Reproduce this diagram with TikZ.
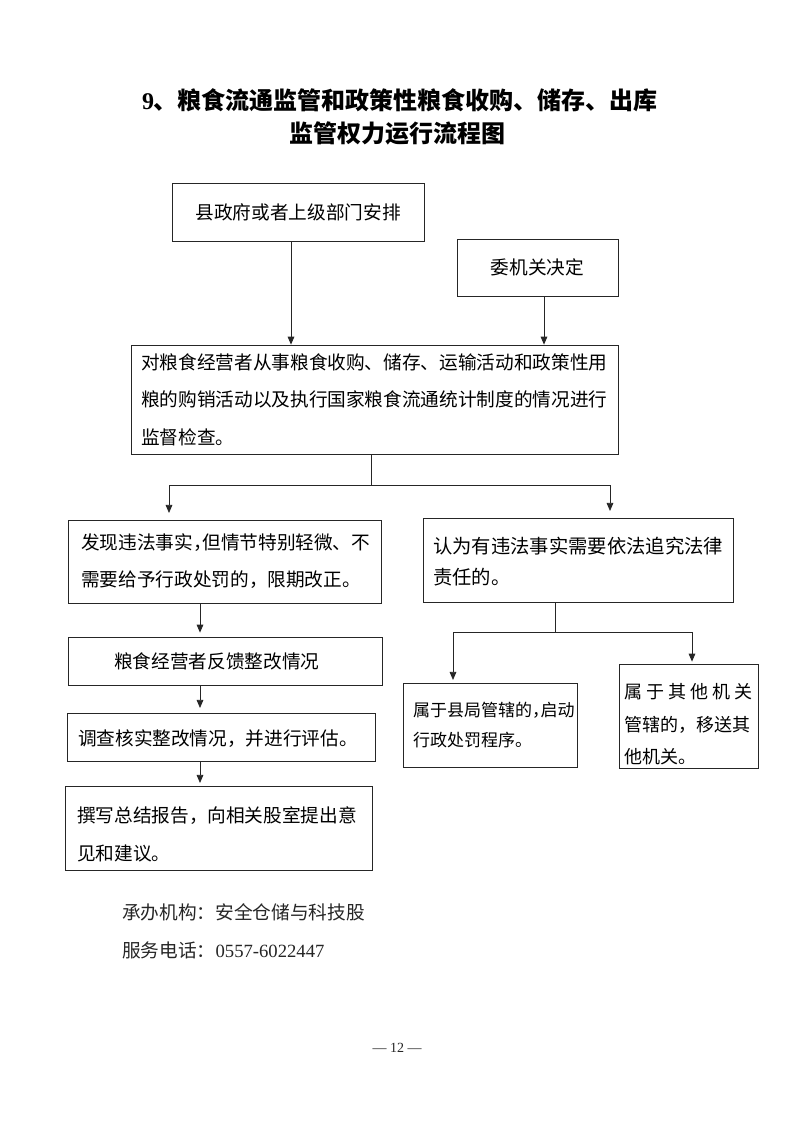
\documentclass[tikz,border=0pt]{standalone}
\usepackage{fontspec}
\setmainfont{Liberation Serif}
\newfontfamily\cjk{Noto Sans CJK SC}
\usetikzlibrary{arrows.meta}
\newcommand\hcomma{\makebox[0.5em][l]{，}}
\begin{document}
\begin{tikzpicture}[x=0.75pt,y=-0.75pt,
  box/.style={draw=black!85,line width=0.6pt,inner sep=0pt,align=left},
  ln/.style={draw=black!85,line width=0.6pt},
  arr/.style={ln,-{Triangle[length=6pt,width=5pt]}},
  txt/.style={inner sep=0pt},
  bodyfont/.style={font=\cjk\fontsize{14pt}{#1}\selectfont}]
\useasboundingbox[fill=white] (0,0) rectangle (793,1122);

% title
\node[txt,font=\cjk\bfseries\fontsize{18pt}{22pt}\selectfont] (t1) at (400,100) {{\rmfamily\bfseries 9}、粮食流通监管和政策性粮食收购、储存、出库};
\node[txt,font=\cjk\bfseries\fontsize{18pt}{22pt}\selectfont] (t2) at (397,133) {监管权力运行流程图};

% boxes
\node[box,bodyfont=28pt,minimum width=189pt,minimum height=43.5pt] (A) at (298,212) {县政府或者上级部门安排};
\node[box,bodyfont=28pt,minimum width=120.75pt,minimum height=42.75pt] (B) at (537.5,267.5) {委机关决定};
\node[box,bodyfont=28.1pt,minimum width=365.25pt,minimum height=81.75pt,text width=350.25pt] (C) at (374.5,399.5)
  {对粮食经营者从事粮食收购、储存、运输活动和政策性用\\粮的购销活动以及执行国家粮食流通统计制度的情况进行\\监督检查。};
\node[box,bodyfont=27.75pt,minimum width=234.75pt,minimum height=62.25pt,text width=215.25pt] (D) at (224.5,561.5)
  {发现违法事实\hcomma 但情节特别轻微、不\\需要给予行政处罚的，限期改正。};
\node[box,bodyfont=28pt,minimum width=235.5pt,minimum height=36pt,text width=166.5pt] (E) at (225,661)
  {粮食经营者反馈整改情况};
\node[box,bodyfont=28pt,minimum width=231pt,minimum height=36pt,text width=214.5pt] (F) at (221,737)
  {\rule{0pt}{14pt}调查核实整改情况，并进行评估。};
\node[box,bodyfont=28.5pt,minimum width=230.25pt,minimum height=63pt,text width=212.25pt] (G) at (218.5,828)
  {\rule{0pt}{21pt}撰写总结报告，向相关股室提出意\\见和建议。};
\node[box,font=\cjk\fontsize{14.5pt}{23.25pt}\selectfont,minimum width=232.5pt,minimum height=63pt,text width=217.5pt] (H) at (578,560)
  {\rule{0pt}{15pt}认为有违法事实需要依法追究法律\\责任的。};
\node[box,font=\cjk\fontsize{12.75pt}{22.5pt}\selectfont,minimum width=130.5pt,minimum height=63pt,text width=115.5pt] (I) at (490,725)
  {属于县局管辖的\hcomma 启动\\行政处罚程序。};
\node[box,font=\cjk\fontsize{13.5pt}{24.4pt}\selectfont,minimum width=104.25pt,minimum height=78pt,text width=96pt] (J) at (688.5,716)
  {\hbox to \hsize{\rule{0pt}{24pt}属\hfill 于\hfill 其\hfill 他\hfill 机\hfill 关}\\管辖的，移送其\\他机关。};

% connectors
\coordinate (xa) at (291,0);
\coordinate (xb) at (544,0);
\draw[arr] (A.south -| xa) -- (C.north -| xa);
\draw[arr] (B.south -| xb) -- (C.north -| xb);

\coordinate (jc) at (371,485);
\coordinate (jl) at (169,485);
\coordinate (jr) at (610,485);
\draw[ln] (C.south -| jc) -- (jc);
\draw[ln] (jl) -- (jr);
\draw[arr,shorten >=5pt] (jl) -- (D.north -| jl);
\draw[arr,shorten >=5pt] (jr) -- (H.north -| jr);

\coordinate (xd) at (200,0);
\draw[arr,shorten >=3pt] (D.south -| xd) -- (E.north -| xd);
\draw[arr,shorten >=3.5pt] (E.south -| xd) -- (F.north -| xd);
\draw[arr,shorten >=2pt] (F.south -| xd) -- (G.north -| xd);

\coordinate (jh) at (555,632);
\coordinate (jhl) at (453,632);
\coordinate (jhr) at (692,632);
\draw[ln] (H.south -| jh) -- (jh);
\draw[ln] (jhl) -- (jhr);
\draw[arr,shorten >=2pt] (jhl) -- (I.north -| jhl);
\draw[arr,shorten >=1.5pt] (jhr) -- (J.north -| jhr);

% footer
\node[txt,anchor=west,font=\cjk\fontsize{14pt}{18pt}\selectfont,text=black!85] (f1) at (122,912) {承办机构：安全仓储与科技股};
\node[txt,anchor=west,font=\cjk\fontsize{14pt}{18pt}\selectfont,text=black!85] (f2) at (122,950) {服务电话：{\rmfamily 0557-6022447}};
\node[txt,font=\fontsize{10.5pt}{12pt}\selectfont,text=black!85] (pg) at (397,1048) {— 12 —};
\end{tikzpicture}
\end{document}
